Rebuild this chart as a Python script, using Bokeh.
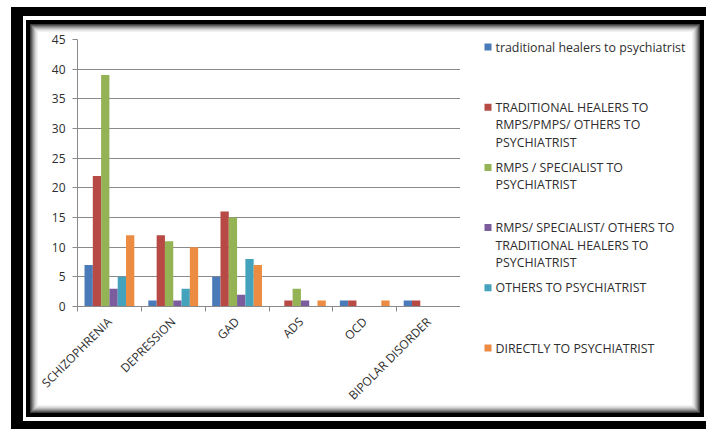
from math import pi

from bokeh.core.properties import value
from bokeh.embed import file_html
from bokeh.layouts import row
from bokeh.models import ColumnDataSource, FixedTicker, Range1d
from bokeh.plotting import figure
from bokeh.resources import INLINE

# ---- data -------------------------------------------------------------
categories = ["SCHIZOPHRENIA", "DEPRESSION", "GAD", "ADS", "OCD", "BIPOLAR DISORDER"]

trad_healers_to_psychiatrist = [7, 1, 5, 0, 1, 1]
trad_healers_rmps_others = [22, 12, 16, 1, 1, 1]
rmps_specialist_to_psychiatrist = [39, 11, 15, 3, 0, 0]
rmps_others_trad_healers = [3, 1, 2, 1, 0, 0]
others_to_psychiatrist = [5, 3, 8, 0, 0, 0]
directly_to_psychiatrist = [12, 10, 7, 1, 1, 0]

series_values = [
    trad_healers_to_psychiatrist,
    trad_healers_rmps_others,
    rmps_specialist_to_psychiatrist,
    rmps_others_trad_healers,
    others_to_psychiatrist,
    directly_to_psychiatrist,
]

# legend text, one list of lines per series
series_labels = [
    ["traditional healers to psychiatrist"],
    ["TRADITIONAL HEALERS TO", "RMPS/PMPS/ OTHERS TO", "PSYCHIATRIST"],
    ["RMPS / SPECIALIST  TO", "PSYCHIATRIST"],
    ["RMPS/ SPECIALIST/ OTHERS TO", "TRADITIONAL HEALERS TO", "PSYCHIATRIST"],
    ["OTHERS TO PSYCHIATRIST"],
    ["DIRECTLY TO  PSYCHIATRIST"],
]

y_ticks = [0, 5, 10, 15, 20, 25, 30, 35, 40, 45]

colors = ["#4A7AB8", "#B84A46", "#94B354", "#7B5D9E", "#44A2BD", "#EC8C42"]

FONT = "Open Sans"
TEXT_COLOR = "#2e2e2e"
AXIS_GRAY = "#8a8a8a"

# ---- layout sizes -----------------------------------------------------
W, H = 706, 429
CHART_W = 460          # chart canvas width; legend column takes the rest
LEG_W = W - CHART_W
n_cat = len(categories)
n_ser = len(series_values)
bar_w = 0.13

# ---- chart ------------------------------------------------------------
p = figure(
    width=CHART_W,
    height=H,
    x_range=Range1d(0, n_cat),
    y_range=Range1d(0, 45),
    output_backend="svg",
    toolbar_location=None,
    min_border_left=77,
    min_border_right=0,
    min_border_top=39,
    min_border_bottom=H - 306,
    background_fill_color="white",
    border_fill_color=None,
    outline_line_color=None,
)

for s, vals in enumerate(series_values):
    xs = [i + 0.5 + (s - (n_ser - 1) / 2) * bar_w for i in range(n_cat)]
    p.vbar(x=xs, top=vals, width=bar_w, bottom=0,
           fill_color=colors[s], line_color=None)

p.ygrid.grid_line_color = AXIS_GRAY
p.ygrid.grid_line_width = 1
p.ygrid.ticker = FixedTicker(ticks=y_ticks)
p.xgrid.grid_line_color = None

yax = p.yaxis[0]
yax.ticker = FixedTicker(ticks=y_ticks)
yax.axis_line_color = AXIS_GRAY
yax.major_tick_line_color = AXIS_GRAY
yax.major_tick_out = 5
yax.major_tick_in = 0
yax.minor_tick_line_color = None
yax.major_label_standoff = 7
yax.major_label_text_font = FONT
yax.major_label_text_font_size = "12px"
yax.major_label_text_color = TEXT_COLOR

centers = [i + 0.5 for i in range(n_cat)]
bounds = list(range(n_cat + 1))
xax = p.xaxis[0]
xax.ticker = FixedTicker(ticks=centers, minor_ticks=bounds)
xax.major_label_overrides = {c: name for c, name in zip(centers, categories)}
xax.axis_line_color = AXIS_GRAY
xax.major_tick_line_color = None
xax.major_tick_out = 0
xax.major_tick_in = 0
xax.minor_tick_line_color = AXIS_GRAY
xax.minor_tick_out = 5
xax.minor_tick_in = 0
xax.major_label_orientation = pi / 4
xax.major_label_standoff = 8
xax.major_label_text_font = FONT
xax.major_label_text_font_size = "12px"
xax.major_label_text_color = TEXT_COLOR

# ---- legend column (its own canvas, 1 unit = 1 px) ---------------------
swatch_x = 487.5
text_x = 495
legend_top = 46.5
item_step = 60.2
line_step = 17.4

sw_x, sw_y, sw_c = [], [], []
tx_x, tx_y, tx_t = [], [], []
for s, lines in enumerate(series_labels):
    yc = legend_top + s * item_step
    sw_x.append(swatch_x)
    sw_y.append(yc)
    sw_c.append(colors[s])
    for k, line in enumerate(lines):
        tx_x.append(text_x)
        tx_y.append(yc + k * line_step)
        tx_t.append(line)

leg = figure(
    width=LEG_W,
    height=H,
    x_range=Range1d(CHART_W, W),
    y_range=Range1d(H, 0),
    x_axis_type=None,
    y_axis_type=None,
    output_backend="svg",
    toolbar_location=None,
    min_border=0,
    background_fill_color=None,
    border_fill_color=None,
    outline_line_color=None,
)
# keep the legend canvas independent of the chart's frame edges
for fig in (p, leg):
    if "frame_align" in fig.properties():
        fig.frame_align = False
leg.xgrid.visible = False
leg.ygrid.visible = False
leg.rect(x="x", y="y", width=7, height=7, fill_color="c", line_color=None,
         source=ColumnDataSource(dict(x=sw_x, y=sw_y, c=sw_c)))
leg.text(x="x", y="y", text="t", text_font=value(FONT), text_font_size="12.4px",
         text_color=TEXT_COLOR, text_baseline="middle", text_align="left",
         source=ColumnDataSource(dict(x=tx_x, y=tx_y, t=tx_t)))

# ---- page frame: double black border with a soft inner shadow ---------
# each layer is drawn as one-sided inset shadows: (left, top, right, bottom)
frame_layers = [
    ("#ffffff", 11, 7, 0, 0),
    ("#000000", 23, 16, 0, 8),
    ("#ffffff", 26, 20, 2, 12),
    ("#000000", 30, 24, 6, 16),
]
shade = ["#3c3c3c", "#5e5e5e", "#808080", "#a0a0a0", "#bcbcbc", "#d4d4d4",
         "#e6e6e6", "#f2f2f2"]
for i, c in enumerate(shade, start=1):
    frame_layers.append((c, 30 + i, 24 + i, 6 + i, 16 + i))

shadows = []
for c, l, t, r, b in frame_layers:
    if l:
        shadows.append(f"inset {l}px 0 0 0 {c}")
    if t:
        shadows.append(f"inset 0 {t}px 0 0 {c}")
    if r:
        shadows.append(f"inset -{r}px 0 0 0 {c}")
    if b:
        shadows.append(f"inset 0 -{b}px 0 0 {c}")

page = row(p, leg, width=W, height=H,
           styles={"background-color": "white",
                   "box-shadow": ", ".join(shadows)})

open("out.html", "w").write(file_html(page, INLINE))
